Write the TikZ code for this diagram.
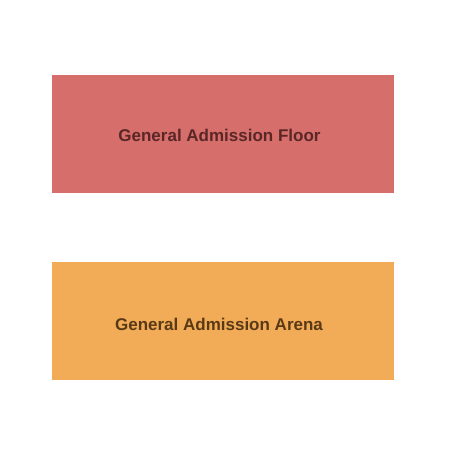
\documentclass[tikz,border=0pt]{standalone}
\usepackage{fontspec}
\setmainfont{Liberation Sans}
\usepackage{tikz}
\usetikzlibrary{positioning,calc}

\definecolor{floorred}{HTML}{D66E6C}
\definecolor{floortext}{HTML}{5A2626}
\definecolor{arenaorange}{HTML}{F2AC57}
\definecolor{arenatext}{HTML}{5A3A16}

\tikzset{
  section/.style={draw=none,minimum width=342pt,minimum height=118pt,inner sep=0pt},
  seclabel/.style={font=\bfseries\fontsize{17}{20}\selectfont,inner sep=0pt}
}

\begin{document}
\begin{tikzpicture}[x=1pt,y=-1pt]
\useasboundingbox (0,0) rectangle (450,450);
\node [section,fill=floorred] (floor) at (223,134) {};
\node [section,fill=arenaorange] (arena) at (223,321) {};
\node [seclabel,text=floortext,xshift=-3.5pt,yshift=-1pt] (floorlabel) at (floor.center) {General Admission Floor};
\node [seclabel,text=arenatext,xshift=-4pt,yshift=-3pt] (arenalabel) at (arena.center) {General Admission Arena};
\end{tikzpicture}
\end{document}
